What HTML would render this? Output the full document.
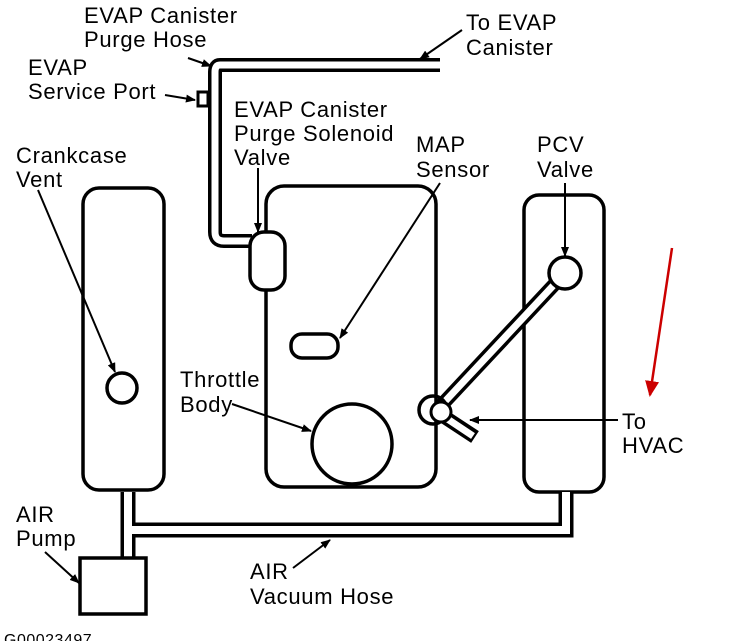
<!DOCTYPE html>
<html><head><style>
html,body{margin:0;padding:0;background:#fff;}
svg{display:block;}
text{font-family:"Liberation Sans",Arial,sans-serif;font-size:22px;letter-spacing:0.7px;fill:#000;}
</style></head><body>
<svg width="754" height="641" viewBox="0 0 754 641" xmlns="http://www.w3.org/2000/svg">
<defs>
<marker id="a" markerWidth="10" markerHeight="8" refX="9" refY="4" orient="auto" markerUnits="userSpaceOnUse"><path d="M0,0 L10,4 L0,8 Z" fill="#000"/></marker>
<marker id="r" markerWidth="16" markerHeight="14" refX="14" refY="7" orient="auto" markerUnits="userSpaceOnUse"><path d="M0,0 L16,7 L0,14 Z" fill="#c00"/></marker>
</defs>
<g fill="none" stroke="#000" stroke-width="3.5">
<rect x="83" y="188" width="81" height="302" rx="16"/>
<rect x="266" y="186" width="170" height="301" rx="18"/>
<rect x="524" y="195" width="80" height="297" rx="15"/>
<circle cx="122" cy="388" r="15"/>
<circle cx="352" cy="444" r="40" fill="#fff"/>
<rect x="291" y="334" width="47" height="24" rx="11"/>
</g>
<path d="M440,65 H220 Q215,65 215,72 V232 Q215,241 224,241 H252" fill="none" stroke="#000" stroke-width="14"/>
<path d="M442,65 H220 Q215,65 215,72 V232 Q215,241 224,241 H252" fill="none" stroke="#fff" stroke-width="7"/>
<rect x="198" y="92" width="10" height="14" fill="#fff" stroke="#000" stroke-width="3"/>
<rect x="250" y="232" width="35" height="58" rx="14" fill="#fff" stroke="#000" stroke-width="3.5"/>
<path d="M565,273 L437,410" stroke="#000" stroke-width="14" fill="none"/>
<path d="M565,273 L437,410" stroke="#fff" stroke-width="7" fill="none"/>
<path d="M440,414 L475,437" stroke="#000" stroke-width="14" fill="none"/>
<path d="M440,414 L473,436" stroke="#fff" stroke-width="7" fill="none"/>
<circle cx="565" cy="273" r="16" fill="#fff" stroke="#000" stroke-width="3.5"/>
<circle cx="433" cy="410" r="14" fill="none" stroke="#000" stroke-width="3.5"/>
<circle cx="441" cy="412" r="10" fill="#fff" stroke="#000" stroke-width="3"/>
<path d="M128,492 V560" stroke="#000" stroke-width="15" fill="none"/>
<path d="M128,530 H566 V492" stroke="#000" stroke-width="15" fill="none"/>
<path d="M128,492 V560" stroke="#fff" stroke-width="8" fill="none"/>
<path d="M128,530 H566 V492" stroke="#fff" stroke-width="8" fill="none"/>
<rect x="80" y="558" width="66" height="56" fill="#fff" stroke="#000" stroke-width="3.5"/>
<g stroke="#000" stroke-width="2" fill="none" marker-end="url(#a)">
<path d="M188,58 L211,66"/>
<path d="M462,30 L420,59"/>
<path d="M165,95 L195,100"/>
<path d="M258,168 L258,232"/>
<path d="M440,183 L340,338"/>
<path d="M565,183 L565,256"/>
<path d="M38,190 L115,372"/>
<path d="M232,404 L311,431"/>
<path d="M618,420 L470,420"/>
<path d="M45,552 L79,583"/>
<path d="M293,568 L330,540"/>
</g>
<path d="M672,248 L650,395" stroke="#c00" stroke-width="2.5" fill="none" marker-end="url(#r)"/>
<text x="84" y="23">EVAP Canister</text><text x="84" y="47">Purge Hose</text>
<text x="466" y="30">To EVAP</text><text x="466" y="55">Canister</text>
<text x="28" y="75">EVAP</text><text x="28" y="99">Service Port</text>
<text x="234" y="117">EVAP Canister</text><text x="234" y="141">Purge Solenoid</text><text x="234" y="165">Valve</text>
<text x="416" y="152">MAP</text><text x="416" y="177">Sensor</text>
<text x="537" y="152">PCV</text><text x="537" y="177">Valve</text>
<text x="16" y="163">Crankcase</text><text x="16" y="187">Vent</text>
<text x="180" y="387">Throttle</text><text x="180" y="412">Body</text>
<text x="622" y="429">To</text><text x="622" y="453">HVAC</text>
<text x="16" y="522">AIR</text><text x="16" y="546">Pump</text>
<text x="250" y="579">AIR</text><text x="250" y="604">Vacuum Hose</text>
<text x="4" y="645" style="font-size:16px;letter-spacing:0.5px">G00023497</text>
</svg>
</body></html>
